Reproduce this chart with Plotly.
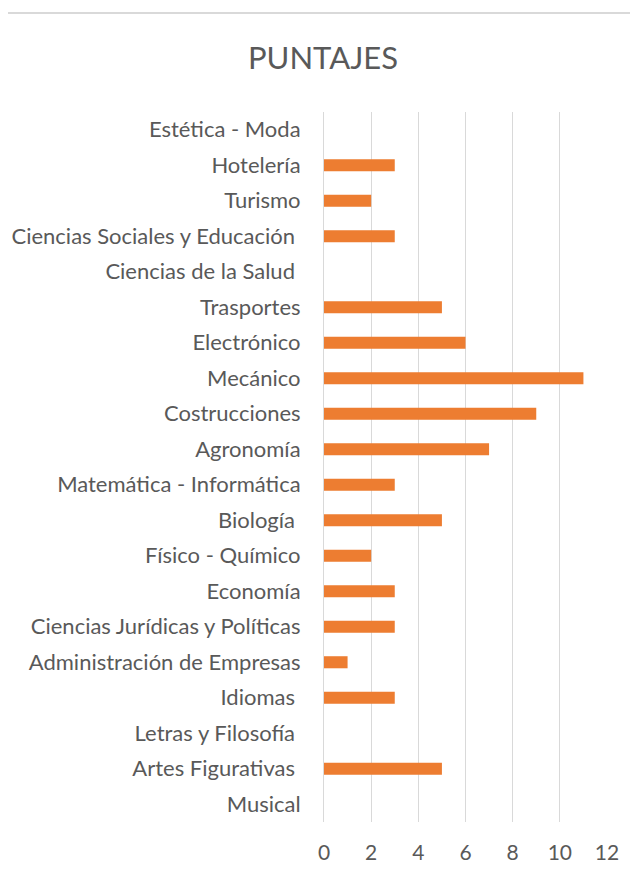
import plotly.graph_objects as go

# categories listed bottom to top, as they appear on the y axis
categorias = [
    'Musical', 'Artes Figurativas\u00a0', 'Letras y Filosofía\u00a0', 'Idiomas\u00a0',
    'Administración de Empresas', 'Ciencias Jurídicas y Políticas', 'Economía',
    'Físico - Químico', 'Biología\u00a0', 'Matemática - Informática', 'Agronomía',
    'Costrucciones', 'Mecánico', 'Electrónico', 'Trasportes',
    'Ciencias de la Salud\u00a0', 'Ciencias Sociales y Educación\u00a0', 'Turismo',
    'Hotelería', 'Estética - Moda',
]
puntajes = [0, 5, 0, 3, 1, 3, 3, 2, 5, 3, 7, 9, 11, 6, 5, 0, 3, 2, 3, 0]
x_ticks = [0, 2, 4, 6, 8, 10, 12]

# the page body adds an 8px offset, so the figure is 8px smaller
W, H = 630, 870
m_l, m_r, m_t, m_b = 316, 31, 104, 56
pw, ph = W - m_l - m_r, H - m_t - m_b

fig = go.Figure()
fig.add_trace(go.Bar(
    x=puntajes,
    y=categorias,
    orientation='h',
    marker_color='#ed7d31',
    marker_line_width=0,
))

fig.update_layout(
    title={
        'text': 'PUNTAJES',
        'x': 0.5,
        'xref': 'container',
        'xanchor': 'center',
        'y': 1 - 50 / H,
        'yanchor': 'middle',
        'font': dict(family='Lato', size=31, color='#595959'),
    },
    width=W,
    height=H,
    margin=dict(l=m_l, r=m_r, t=m_t, b=m_b),
    plot_bgcolor='white',
    paper_bgcolor='white',
    bargap=0.66,
    showlegend=False,
    xaxis=dict(
        range=[0, 12],
        tickvals=x_ticks,
        automargin=False,
        showgrid=True,
        gridcolor='#d9d9d9',
        gridwidth=1,
        zeroline=False,
        showline=False,
        ticks='',
        ticklabelstandoff=16,
        tickfont=dict(family='Lato', size=21, color='#595959'),
    ),
    yaxis=dict(
        type='category',
        range=[-0.5, 19.5],
        automargin=False,
        showgrid=False,
        zeroline=False,
        showline=True,
        linecolor='#d9d9d9',
        linewidth=1,
        ticks='',
        ticklabelstandoff=18,
        tickfont=dict(family='Lato', size=22, color='#595959'),
    ),
    shapes=[dict(
        type='line', xref='paper', yref='paper',
        x0=-m_l / pw, x1=1 + (m_r + 8) / pw,
        y0=1 + (m_t - 5) / ph, y1=1 + (m_t - 5) / ph,
        line=dict(color='#d9d9d9', width=2),
    )],
)

fig.write_html('out.html')
